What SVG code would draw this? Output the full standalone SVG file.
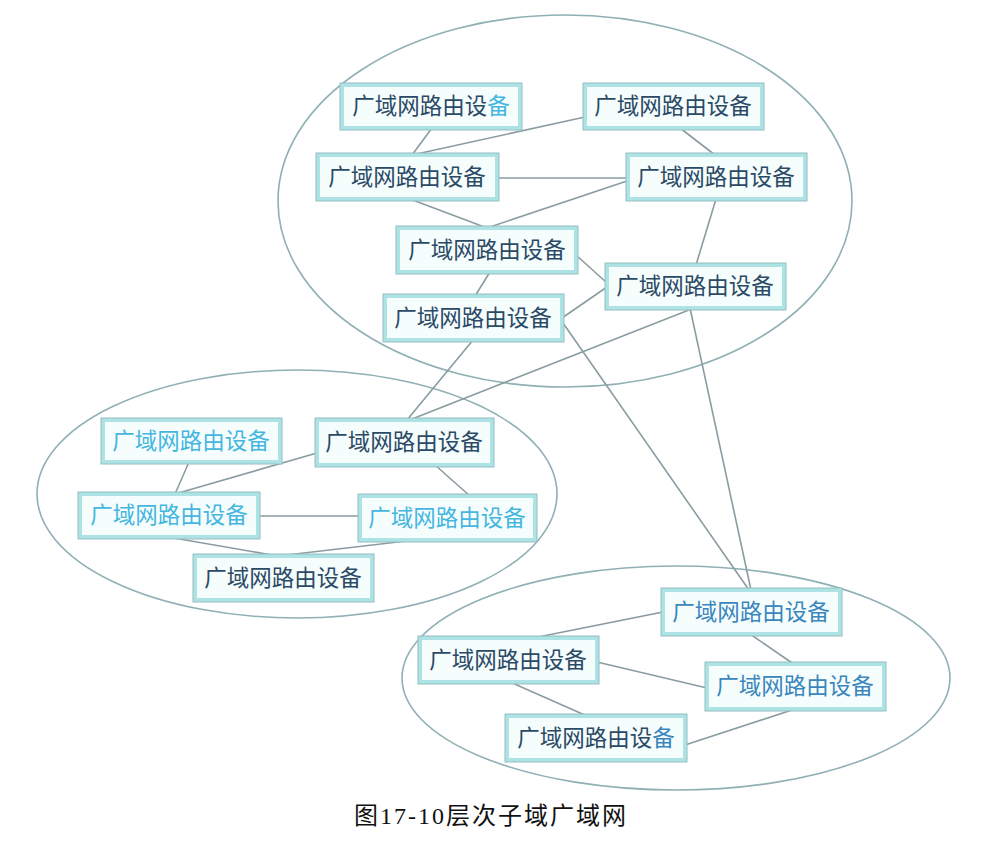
<svg xmlns="http://www.w3.org/2000/svg" width="987" height="846" viewBox="0 0 987 846">
<style>
.el{fill:none;stroke:#8fb0b4;stroke-width:1.6}
.ln{stroke:#8a9ca2;stroke-width:1.6;fill:none}
.bx{fill:#f6fdfd;stroke:#ade3e5;stroke-width:4}
.bo{fill:none;stroke:#95bec2;stroke-width:1}
.t{font-family:"Noto Sans CJK SC",sans-serif;font-size:22.5px;text-anchor:middle}
.d{fill:#2b4a66}
.c{fill:#45b6e0}
.b{fill:#3a86bd}
.cap{font-family:"Liberation Serif","Noto Sans CJK SC",serif;font-size:24px;letter-spacing:2px;fill:#111;text-anchor:middle}
</style>
<rect width="987" height="846" fill="#fff"/>
<g id="clusters">
<ellipse class="el" cx="565" cy="201" rx="287" ry="186"/>
<ellipse class="el" cx="297" cy="494" rx="260" ry="124"/>
<ellipse class="el" cx="676" cy="678" rx="274" ry="112"/>
</g>
<g id="connectors">
<line class="ln" x1="432" y1="128" x2="412" y2="155"/>
<line class="ln" x1="412" y1="155" x2="585" y2="117"/>
<line class="ln" x1="680" y1="128" x2="715" y2="155"/>
<line class="ln" x1="497" y1="178" x2="628" y2="178"/>
<line class="ln" x1="410" y1="199" x2="487" y2="228"/>
<line class="ln" x1="487" y1="228" x2="630" y2="180"/>
<line class="ln" x1="716" y1="199" x2="696" y2="265"/>
<line class="ln" x1="576" y1="255" x2="607" y2="283"/>
<line class="ln" x1="562" y1="318" x2="607" y2="287"/>
<line class="ln" x1="490" y1="272" x2="475" y2="296"/>
<line class="ln" x1="473" y1="340" x2="407" y2="420"/>
<line class="ln" x1="694" y1="308" x2="407" y2="421"/>
<line class="ln" x1="563" y1="323" x2="749" y2="590"/>
<line class="ln" x1="690" y1="308" x2="751" y2="590"/>
<line class="ln" x1="189" y1="462" x2="175" y2="494"/>
<line class="ln" x1="175" y1="494" x2="317" y2="453"/>
<line class="ln" x1="435" y1="465" x2="470" y2="496"/>
<line class="ln" x1="258" y1="516" x2="360" y2="516"/>
<line class="ln" x1="168" y1="537" x2="278" y2="556"/>
<line class="ln" x1="415" y1="540" x2="278" y2="556"/>
<line class="ln" x1="663" y1="612" x2="523" y2="640"/>
<line class="ln" x1="750" y1="634" x2="795" y2="665"/>
<line class="ln" x1="597" y1="662" x2="707" y2="688"/>
<line class="ln" x1="510" y1="682" x2="587" y2="716"/>
<line class="ln" x1="685" y1="745" x2="795" y2="709"/>
</g>
<g id="nA"><rect class="bx" x="342" y="85" width="178" height="43"/><rect class="bo" x="340" y="83" width="182" height="47"/><text class="t d" x="431" y="114">广域网路由设<tspan class="c">备</tspan></text></g>
<g id="nB"><rect class="bx" x="585" y="85" width="177" height="43"/><rect class="bo" x="583" y="83" width="181" height="47"/><text class="t d" x="673" y="114">广域网路由设备</text></g>
<g id="nC"><rect class="bx" x="318" y="155" width="179" height="44"/><rect class="bo" x="316" y="153" width="183" height="48"/><text class="t d" x="407" y="185">广域网路由设备</text></g>
<g id="nD"><rect class="bx" x="628" y="155" width="177" height="44"/><rect class="bo" x="626" y="153" width="181" height="48"/><text class="t d" x="716" y="185">广域网路由设备</text></g>
<g id="nE"><rect class="bx" x="398" y="228" width="178" height="44"/><rect class="bo" x="396" y="226" width="182" height="48"/><text class="t d" x="487" y="258">广域网路由设备</text></g>
<g id="nF"><rect class="bx" x="607" y="265" width="177" height="43"/><rect class="bo" x="605" y="263" width="181" height="47"/><text class="t d" x="695" y="294">广域网路由设备</text></g>
<g id="nG"><rect class="bx" x="385" y="296" width="177" height="44"/><rect class="bo" x="383" y="294" width="181" height="48"/><text class="t d" x="473" y="326">广域网路由设备</text></g>
<g id="nH"><rect class="bx" x="103" y="420" width="177" height="42"/><rect class="bo" x="101" y="418" width="181" height="46"/><text class="t c" x="191" y="449">广域网路由设备</text></g>
<g id="nI"><rect class="bx" x="317" y="420" width="175" height="45"/><rect class="bo" x="315" y="418" width="179" height="49"/><text class="t d" x="404" y="450">广域网路由设备</text></g>
<g id="nJ"><rect class="bx" x="80" y="494" width="178" height="43"/><rect class="bo" x="78" y="492" width="182" height="47"/><text class="t c" x="169" y="523">广域网路由设备</text></g>
<g id="nK"><rect class="bx" x="360" y="496" width="175" height="44"/><rect class="bo" x="358" y="494" width="179" height="48"/><text class="t c" x="447" y="526">广域网路由设备</text></g>
<g id="nL"><rect class="bx" x="195" y="556" width="177" height="44"/><rect class="bo" x="193" y="554" width="181" height="48"/><text class="t d" x="283" y="586">广域网路由设备</text></g>
<g id="nM"><rect class="bx" x="663" y="590" width="177" height="44"/><rect class="bo" x="661" y="588" width="181" height="48"/><text class="t b" x="751" y="620">广域网路由设备</text></g>
<g id="nN"><rect class="bx" x="420" y="638" width="177" height="44"/><rect class="bo" x="418" y="636" width="181" height="48"/><text class="t d" x="508" y="668">广域网路由设备</text></g>
<g id="nO"><rect class="bx" x="707" y="664" width="177" height="45"/><rect class="bo" x="705" y="662" width="181" height="49"/><text class="t b" x="795" y="694">广域网路由设备</text></g>
<g id="nP"><rect class="bx" x="507" y="716" width="178" height="44"/><rect class="bo" x="505" y="714" width="182" height="48"/><text class="t d" x="596" y="746">广域网路由设<tspan class="b">备</tspan></text></g>
<text class="cap" x="491" y="824">图17-10层次子域广域网</text>
</svg>
